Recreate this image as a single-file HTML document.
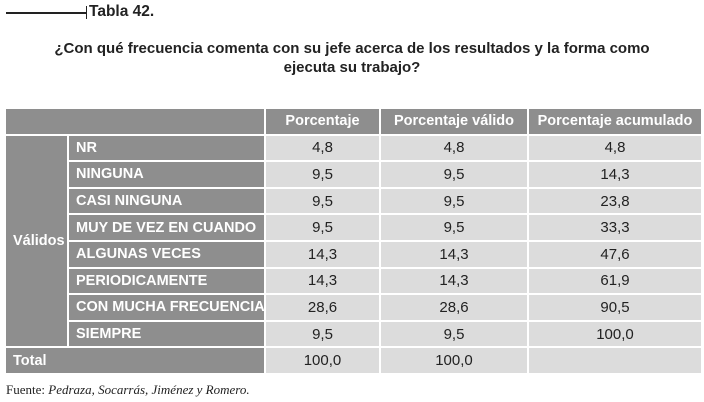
<!DOCTYPE html>
<html><head><meta charset="utf-8"><style>
body{margin:0;width:704px;height:402px;background:#fff;position:relative;overflow:hidden;font-family:"Liberation Sans",sans-serif}
.c{position:absolute;box-sizing:border-box;display:flex;align-items:center;font-size:14.5px;color:#222;white-space:nowrap}
.h{background:#8e8e8e;color:#fff;font-weight:bold;justify-content:center}
.l{background:#8e8e8e;color:#fff;font-weight:bold;padding-left:7px}
.v{background:#dcdcdc;justify-content:center;font-size:15px}
</style></head><body>
<div style="position:absolute;left:6px;top:12px;width:80px;height:2px;background:#222"></div>
<div style="position:absolute;left:86px;top:6px;width:1px;height:13px;background:#222"></div>
<div style="position:absolute;left:89px;top:3px;font-size:15.5px;font-weight:bold;color:#222">Tabla 42.</div>
<div style="position:absolute;left:30px;top:39px;width:644px;text-align:center;font-size:15px;font-weight:bold;color:#222;line-height:19px">¿Con qué frecuencia comenta con su jefe acerca de los resultados y la forma como ejecuta su trabajo?</div>
<div id="t"></div>
<div style="position:absolute;left:6px;top:382px;font-family:'Liberation Serif',serif;font-size:13px;color:#222">Fuente: <i>Pedraza, Socarrás, Jiménez y Romero.</i></div>
<script>
const categories=["NR","NINGUNA","CASI NINGUNA","MUY DE VEZ EN CUANDO","ALGUNAS VECES","PERIODICAMENTE","CON MUCHA FRECUENCIA","SIEMPRE"];
const pct=["4,8","9,5","9,5","9,5","14,3","14,3","28,6","9,5"];
const pctValid=["4,8","9,5","9,5","9,5","14,3","14,3","28,6","9,5"];
const pctCum=["4,8","14,3","23,8","33,3","47,6","61,9","90,5","100,0"];
const totals=["100,0","100,0",""];
const headers=["Porcentaje","Porcentaje válido","Porcentaje acumulado"];
const t=document.getElementById('t');
const X=[6,69,266,381,529,701],top0=109,rh=26.6,g=2;
function cell(cls,x1,x2,y1,y2,txt,name){const d=document.createElement('div');d.className='c '+cls;
d.style.left=x1+'px';d.style.width=(x2-x1-g)+'px';d.style.top=y1+'px';d.style.height=(y2-y1-g)+'px';d.textContent=txt;


t.appendChild(d);}
cell('h',X[0],X[2],top0,top0+rh,'','header-blank');
headers.forEach((h,i)=>cell('h',X[i+2],X[i+3]+(i==2?g:0),top0,top0+rh,h,'header-'+i));
const n=categories.length;
cell('l',X[0],X[1],top0+rh,top0+rh*(n+1),'Válidos','valid-label');
categories.forEach((c,r)=>{const y=top0+rh*(r+1);
cell('l',X[1],X[2],y,y+rh,c,'row-label');
[pct,pctValid,pctCum].forEach((a,i)=>cell('v',X[i+2],X[i+3]+(i==2?g:0),y,y+rh,a[r],'value-cell'));});
const yt=top0+rh*(n+1);
cell('l',X[0],X[2],yt,yt+rh,'Total','total-label');
totals.forEach((v,i)=>cell('v',X[i+2],X[i+3]+(i==2?g:0),yt,yt+rh,v,'total-cell'));
</script>
</body></html>
